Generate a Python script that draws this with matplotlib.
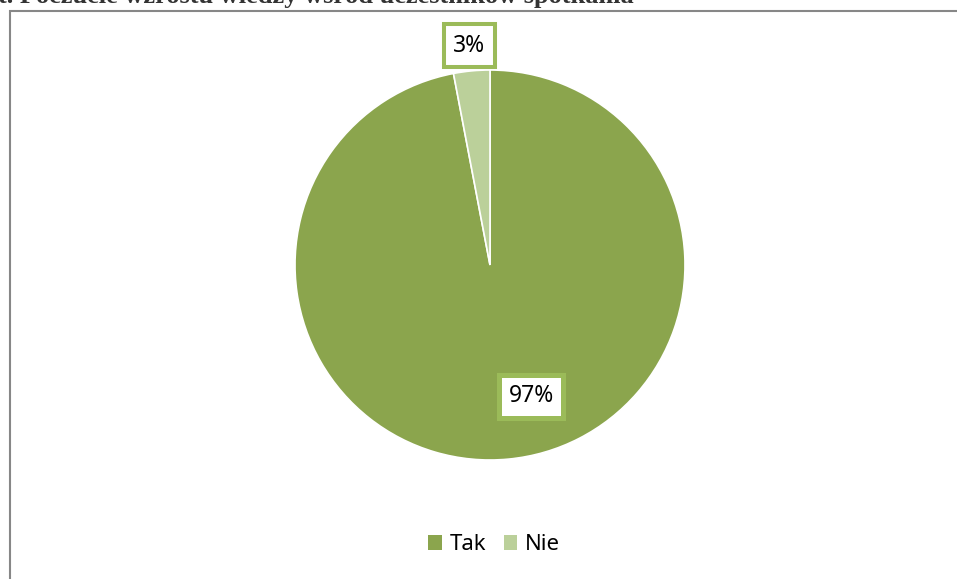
import numpy as np
import matplotlib
matplotlib.use("Agg")
from matplotlib import pyplot as plt
from matplotlib.patches import Rectangle

# dane wykresu
labels = ["Tak", "Nie"]
values = [97, 3]
colors = ["#8BA54D", "#BBD09A"]
title = "t. Poczucie wzrostu wiedzy wśród uczestników spotkania"

W, H = 957, 579
fig = plt.figure(figsize=(W / 100, H / 100), dpi=100)
ax = fig.add_axes([0, 0, 1, 1])

wedges, texts = ax.pie(values, colors=colors, startangle=90, counterclock=False,
                       center=(490, H - 265), radius=195,
                       wedgeprops=dict(edgecolor="white", linewidth=1.2))

# pie() ustawia wlasne granice osi, wiec nadpisujemy je po nim
ax.set_xlim(0, W)
ax.set_ylim(0, H)
ax.set_aspect("equal")
ax.axis("off")

# ramka obszaru wykresu
ax.add_patch(Rectangle((9.5, -10), W + 20, H - 1, fill=False,
                       edgecolor="#878787", linewidth=1.5))

# tytul (przyciety u gory)
ax.text(-2, H - 2.5, title, fontfamily="Liberation Serif", fontweight="bold",
        fontsize=19, color="#333333", va="baseline", ha="left")

# etykiety procentowe
dist = [0.705, 1.13]
shift = [12.0, 0]
border = [3.6, 2.9]
for w, v, d, s, b in zip(wedges, values, dist, shift, border):
    ang = np.deg2rad((w.theta1 + w.theta2) / 2 + s)
    x = 490 + 195 * d * np.cos(ang)
    y = H - 265 + 195 * d * np.sin(ang)
    ax.text(x, y, f"{v}%", ha="center", va="center", fontsize=16.5,
            fontfamily="Noto Sans", color="black",
            bbox=dict(boxstyle="square,pad=0.42", facecolor="white",
                      edgecolor="#9BBB59", linewidth=b))

leg = ax.legend(wedges, labels, loc="center", bbox_to_anchor=(494 / W, 1 - 545 / H),
                ncol=2, frameon=False, handlelength=0.62, handleheight=0.62,
                handletextpad=0.35, columnspacing=0.8,
                prop=dict(family="Noto Sans", size=16))
for h in leg.legend_handles:
    h.set_edgecolor("none")

fig.savefig("out.png", dpi=100)
